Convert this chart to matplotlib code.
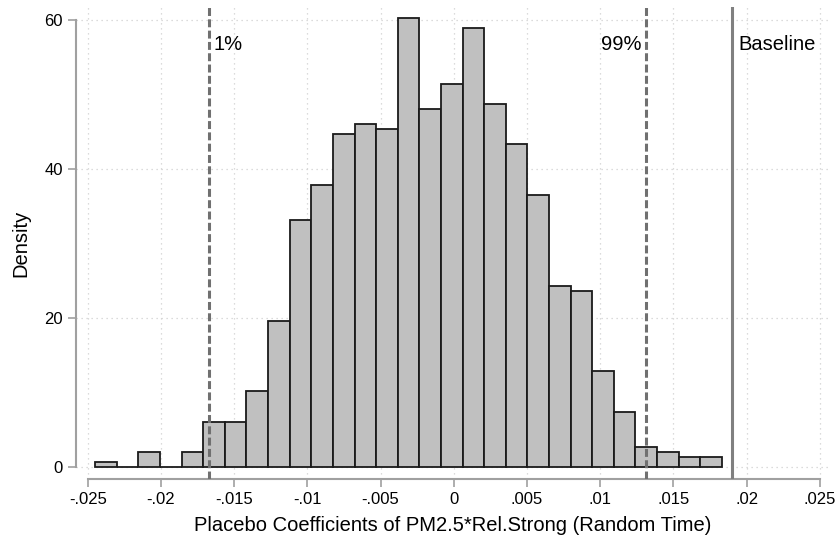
import numpy as np
import matplotlib.pyplot as plt

plt.rcParams['font.family'] = ['Liberation Sans', 'DejaVu Sans']

# histogram counts (1000 placebo draws)
counts = [1, 0, 3, 0, 3, 9, 9, 15, 29, 49, 56, 66, 68, 67, 89,
          71, 76, 87, 72, 64, 54, 36, 35, 19, 11, 4, 3, 2, 2]
n_draws = 1000
bin_start = -0.02449
bin_width = 0.001476

# reference lines
p1 = -0.01674
p99 = 0.01312
baseline = 0.01901

xticks = [-0.025, -0.02, -0.015, -0.01, -0.005, 0, 0.005, 0.01, 0.015, 0.02, 0.025]
xtick_labels = ['-.025', '-.02', '-.015', '-.01', '-.005', '0',
                '.005', '.01', '.015', '.02', '.025']
yticks = [0, 20, 40, 60]

density = np.array(counts) / (n_draws * bin_width)
lefts = bin_start + bin_width * np.arange(len(counts))

fig = plt.figure(figsize=(8.36, 5.44), dpi=100)
ax = fig.add_axes([0.0909, 0.1195, 0.902, 0.8676])

ax.set_xlim(-0.0258, 0.0257)
ax.set_ylim(-1.6, 61.8)

# grid
for x in xticks:
    ax.axvline(x, color='#d0d0d0', lw=0.9, ls=(0, (1, 3)), zorder=0)
for y in yticks:
    ax.axhline(y, color='#d0d0d0', lw=0.9, ls=(0, (1, 3)), zorder=0)

ax.bar(lefts, density, width=bin_width, align='edge',
       color='#c0c0c0', edgecolor='#1a1a1a', linewidth=1.3, zorder=2)

ax.axvline(p1, color='#707070', lw=2.2, ls=(0, (2.6, 1.1)), zorder=3)
ax.axvline(p99, color='#707070', lw=2.2, ls=(0, (2.6, 1.1)), zorder=3)
ax.axvline(baseline, color='#808080', lw=2.2, zorder=3)

ax.text(p1 + 0.0003, 56.7, '1%', fontsize=14.5, va='center', ha='left')
ax.text(p99 - 0.0003, 56.7, '99%', fontsize=14.5, va='center', ha='right')
ax.text(baseline + 0.0004, 56.7, 'Baseline', fontsize=14.5, va='center', ha='left')

ax.set_xticks(xticks)
ax.set_xticklabels(xtick_labels)
ax.set_yticks(yticks)
ax.tick_params(axis='both', colors='#a0a0a0', labelcolor='black',
               labelsize=12, length=6, width=1.2)

for s in ['top', 'right']:
    ax.spines[s].set_visible(False)
ax.spines['left'].set_bounds(0, 60)
ax.spines['bottom'].set_bounds(-0.025, 0.025)
ax.spines['left'].set_color('#a0a0a0')
ax.spines['bottom'].set_color('#a0a0a0')
ax.spines['left'].set_linewidth(1.5)
ax.spines['bottom'].set_linewidth(1.5)

ax.set_xlabel('Placebo Coefficients of PM2.5*Rel.Strong (Random Time)', fontsize=14.5, labelpad=6)
ax.set_ylabel('Density', fontsize=14.5, labelpad=10)

fig.savefig('out.png', dpi=100)
